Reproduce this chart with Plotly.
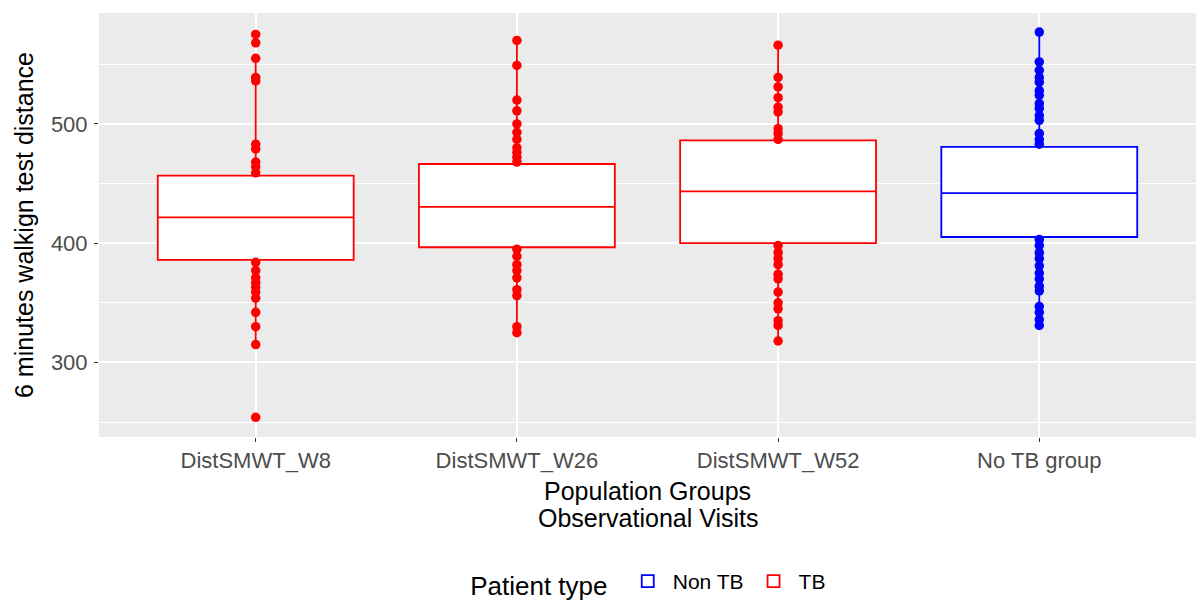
import plotly.graph_objects as go

# ---- data ----
categories = ["DistSMWT_W8", "DistSMWT_W26", "DistSMWT_W52", "No TB group"]
tb_categories = ["DistSMWT_W8", "DistSMWT_W26", "DistSMWT_W52"]
nontb_categories = ["No TB group"]

# box statistics
tb_q1 = [386, 396.6, 400]
tb_median = [421.6, 430.5, 443.5]
tb_q3 = [456.6, 466.4, 486.2]
tb_lower = [315, 325, 318]
tb_upper = [555, 570, 566]

nontb_q1 = [405.2]
nontb_median = [442]
nontb_q3 = [480.8]
nontb_lower = [331]
nontb_upper = [577]

# visible observations (outside the boxes)
pts_w8 = [575, 568, 555, 539, 536, 483, 479, 468, 464, 459,
          384, 377, 371, 367, 363, 359, 354, 342, 330, 315, 254]
pts_w26 = [570, 549, 520, 511, 500, 493, 487, 480, 476, 472, 468,
           395, 389, 382, 377, 371, 361, 356, 330, 325]
pts_w52 = [566, 539, 531, 522, 514, 510, 496, 492, 487,
           398, 392, 387, 382, 374, 370, 359, 350, 345, 335, 331, 318]
pts_notb = [577, 552, 545, 539, 535, 528, 524, 517, 513, 507, 503, 492, 487, 483,
            403, 398, 392, 387, 381, 375, 370, 364, 360, 347, 342, 336, 331]

x_title_lines = ["Population Groups", "Observational Visits"]

RED = "#FF0000"
BLUE = "#0000FF"
FONT = "Liberation Sans, Arial, sans-serif"

fig = go.Figure()

# points first so boxes are drawn above them
for cat, vals, col in [
    ("DistSMWT_W8", pts_w8, RED),
    ("DistSMWT_W26", pts_w26, RED),
    ("DistSMWT_W52", pts_w52, RED),
    ("No TB group", pts_notb, BLUE),
]:
    fig.add_trace(go.Scatter(
        x=[cat] * len(vals), y=vals, mode="markers",
        marker=dict(color=col, size=9.5), showlegend=False, hoverinfo="y"))

fig.add_trace(go.Box(
    name="Non TB", x=nontb_categories, q1=nontb_q1, median=nontb_median,
    q3=nontb_q3, lowerfence=nontb_lower, upperfence=nontb_upper,
    line=dict(color=BLUE, width=1.8), fillcolor="white", width=0.75,
    whiskerwidth=0, boxpoints=False))

fig.add_trace(go.Box(
    name="TB", x=tb_categories, q1=tb_q1, median=tb_median,
    q3=tb_q3, lowerfence=tb_lower, upperfence=tb_upper,
    line=dict(color=RED, width=1.8), fillcolor="white", width=0.75,
    whiskerwidth=0, boxpoints=False))

fig.update_layout(
    width=1198, height=601,
    margin=dict(l=99, r=2, t=13, b=164, autoexpand=False),
    paper_bgcolor="white", plot_bgcolor="#EBEBEB",
    boxmode="overlay",
    font=dict(family=FONT, color="black"),
    showlegend=True,
    legend=dict(
        orientation="h", x=0.502, xanchor="center",
        yref="container", y=0.03, yanchor="middle",
        title=dict(text="Patient type ", font=dict(size=26, color="black"), side="left"),
        font=dict(size=21, color="black"),
        itemwidth=40,
    ),
    xaxis=dict(
        type="category", categoryorder="array", categoryarray=categories,
        range=[-0.6, 3.6],
        showgrid=True, gridcolor="white", gridwidth=2,
        ticks="outside", ticklen=4, tickcolor="#333333", tickwidth=1,
        tickfont=dict(size=22, color="#4D4D4D"),
        showline=False, zeroline=False, automargin=False,
    ),
    yaxis=dict(
        range=[237.5, 593], tickvals=[300, 400, 500],
        showgrid=True, gridcolor="white", gridwidth=2,
        minor=dict(tickvals=[250, 350, 450, 550], showgrid=True,
                   gridcolor="white", gridwidth=1, ticks=""),
        ticks="outside", ticklen=4, tickcolor="#333333", tickwidth=1,
        tickfont=dict(size=22, color="#4D4D4D"), ticklabelstandoff=2,
        showline=False, zeroline=False, automargin=False,
        title=dict(text="6 minutes walkign test distance",
                   font=dict(size=25, color="black"), standoff=10),
    ),
    annotations=[
        dict(text=x_title_lines[0], xref="paper", yref="paper", x=0.5, y=-0.127,
             xanchor="center", yanchor="middle", showarrow=False,
             font=dict(size=25, color="black")),
        dict(text=x_title_lines[1], xref="paper", yref="paper", x=0.5, y=-0.19,
             xanchor="center", yanchor="middle", showarrow=False,
             font=dict(size=25, color="black")),
    ],
)

fig.write_html("out.html")
